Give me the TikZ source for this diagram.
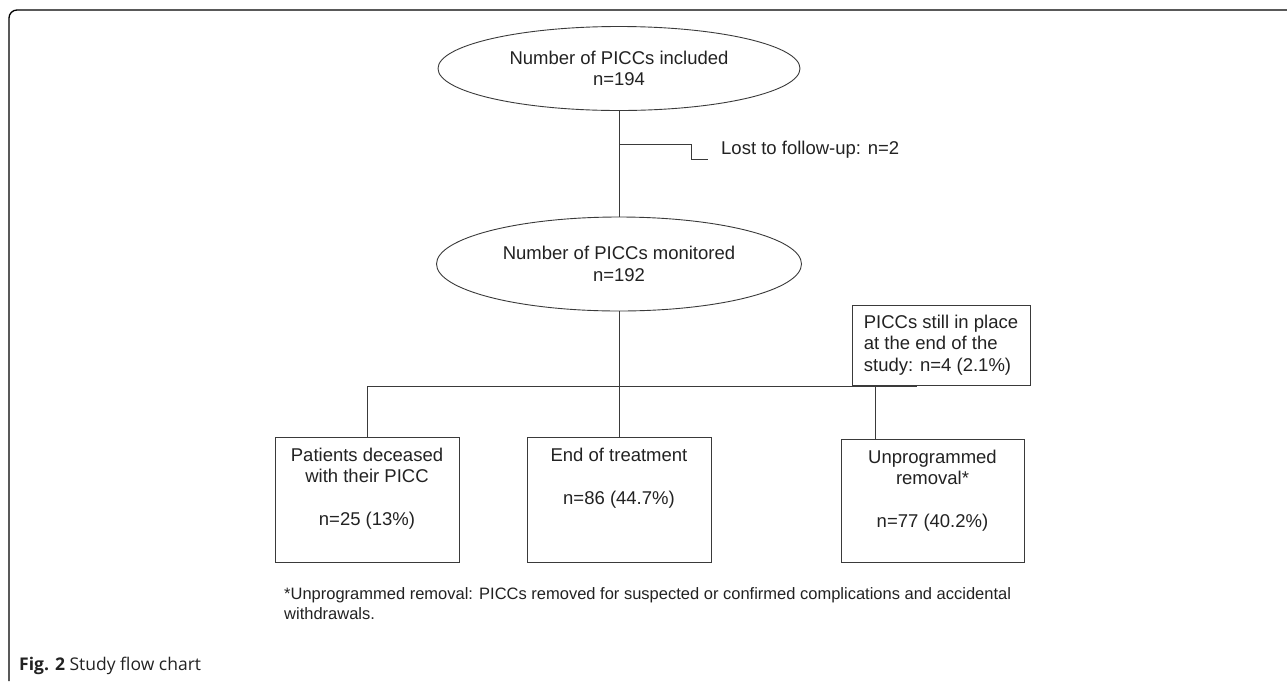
\documentclass[tikz,border=0pt]{standalone}
\usepackage{fontspec}
\setmainfont{Liberation Sans}
\newfontfamily\capfont{Open Sans}
\usetikzlibrary{shapes.geometric}
\definecolor{ink}{HTML}{222222}
\definecolor{linec}{HTML}{3A3A3A}
\begin{document}
\begin{tikzpicture}[x=1pt,y=-1pt,
  every node/.style={font=\fontsize{18.5}{21.5}\selectfont, text=ink},
  oval/.style={draw=linec, ellipse, line width=0.9pt, inner sep=0pt, align=center},
  box/.style={draw=linec, line width=0.9pt, inner sep=0pt},
  boxtext/.style={anchor=north, inner sep=0pt, align=center},
  conn/.style={draw=linec, line width=0.9pt}]
\useasboundingbox (0,0) rectangle (1287,681);
% frame
\draw[line width=1.3pt, rounded corners=8pt] (9,681) -- (9,10) -- (1287,10);
% ellipses
\node[oval, minimum width=362, minimum height=84] (e1) at (619,68.5) {Number of PICCs included\\n=194};
\node[oval, minimum width=365, minimum height=94] (e2) at (619,264) {Number of PICCs monitored\\n=192};
% lost to follow-up
\coordinate (j1) at (619,144);
\coordinate (c1) at (708,159);
\node[anchor=west, inner sep=0pt] (lost) at (721,150) {Lost to follow-up: n=2};
\draw[conn] (e1) -- (e2);
\draw[conn] (j1) -- (691,144) |- (c1);
% boxes
\node[box, minimum width=184, minimum height=125] (b1) at (367,499.5) {};
\node[box, minimum width=184, minimum height=125] (b2) at (619,499.5) {};
\node[box, minimum width=183, minimum height=123] (b3) at (932.5,500.5) {};
\node[box, minimum width=178, minimum height=80, align=left] (still) at (941,345) {PICCs still in place\\at the end of the\\study: n=4 (2.1\%)};
\node[boxtext] (t1) at ([yshift=-11pt]b1.north) {Patients deceased\\with their PICC\\[21.5pt]n=25 (13\%)};
\node[boxtext] (t2) at ([yshift=-11pt]b2.north) {End of treatment\\[21.5pt]n=86 (44.7\%)};
\node[boxtext] (t3) at ([yshift=-11pt]b3.north) {Unprogrammed\\removal*\\[21.5pt]n=77 (40.2\%)};
% connectors
\coordinate (hl) at (367,386);
\coordinate (hr) at (917,386);
\coordinate (c3) at (875,386);
\draw[conn] (hl) -- (hr);
\draw[conn] (hl) -- (b1.north);
\draw[conn] (e2) -- (b2);
\draw[conn] (c3) -- (c3 |- b3.north);
% footnote
\node[anchor=base west, inner sep=0pt, align=left, font=\fontsize{16.5}{19.5}\selectfont] (fn) at (284,619) {*Unprogrammed removal: PICCs removed for suspected or confirmed complications and accidental\\withdrawals.};
% caption
\node[anchor=base west, inner sep=0pt, font=\fontsize{17.5}{20}\selectfont\capfont] (cap) at (19,670) {\textbf{Fig. 2} Study flow chart};
\end{tikzpicture}
\end{document}
